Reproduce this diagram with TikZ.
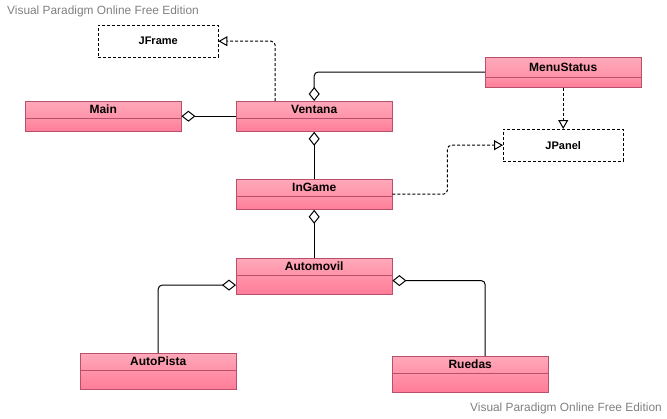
\documentclass[tikz,border=0pt]{standalone}
\usepackage{fontspec}
\setmainfont{Liberation Sans}
\usetikzlibrary{arrows.meta}
\usetikzlibrary{positioning}

\definecolor{umltop}{HTML}{FFA9BA}
\definecolor{umlmid}{HTML}{FF93A9}
\definecolor{umlbot}{HTML}{FF7C98}
\definecolor{umlborder}{HTML}{B9506B}
\definecolor{wmgray}{HTML}{808080}

\tikzset{
  classhead/.style={draw=umlborder, top color=umltop, bottom color=umlmid,
    minimum width=156pt, minimum height=17pt, inner sep=0pt, anchor=north west,
    font=\bfseries\fontsize{12}{14}\selectfont},
  classbody/.style={draw=umlborder, top color=umlmid, bottom color=umlbot,
    minimum width=156pt, inner sep=0pt},
  iface/.style={draw, dash pattern=on 3pt off 2pt, minimum width=120pt,
    minimum height=32pt, inner sep=0pt, anchor=north west,
    font=\bfseries\fontsize{11}{13}\selectfont},
  aggr/.style={draw, line width=1pt, rounded corners=4pt,
    arrows={Diamond[open,fill=white,length=14pt,width=11pt]-}},
  realize/.style={draw, line width=1pt, dash pattern=on 3pt off 2pt,
    rounded corners=4pt, arrows={-Triangle[open,fill=white,length=9pt,width=10pt]}},
  watermark/.style={text=wmgray, font=\fontsize{11.9}{14}\selectfont, inner sep=0pt}
}

\begin{document}
\begin{tikzpicture}[x=1pt,y=-1pt]
  \useasboundingbox (0,0) rectangle (667,418);

  % classes
  \node [classhead] (main) at (25,101) {Main};
  \node [classbody, minimum height=13pt, below=0pt of main] (main-b) {};
  \node [classhead] (ventana) at (236,101) {Ventana};
  \node [classbody, minimum height=13pt, below=0pt of ventana] (ventana-b) {};
  \node [classhead, minimum height=19.5pt] (menustatus) at (485,57) {MenuStatus};
  \node [classbody, minimum height=10.5pt, below=0pt of menustatus] (menustatus-b) {};
  \node [classhead] (ingame) at (236,179) {InGame};
  \node [classbody, minimum height=13pt, below=0pt of ingame] (ingame-b) {};
  \node [classhead] (automovil) at (236,258) {Automovil};
  \node [classbody, minimum height=19pt, below=0pt of automovil] (automovil-b) {};
  \node [classhead] (autopista) at (80,353) {AutoPista};
  \node [classbody, minimum height=19pt, below=0pt of autopista] (autopista-b) {};
  \node [classhead] (ruedas) at (392,356) {Ruedas};
  \node [classbody, minimum height=19pt, below=0pt of ruedas] (ruedas-b) {};

  % interfaces
  \node [iface] (jframe) at (98,25) {JFrame};
  \node [iface] (jpanel) at (503,129) {JPanel};

  % aggregations
  \draw [aggr] ([yshift=-6.5pt]main.east) -- ([yshift=-6.5pt]ventana.west);
  \draw [aggr] (ventana.north) |- (menustatus.west |- 0,72);
  \draw [aggr] (ventana-b.south) -- (ingame.north);
  \draw [aggr] (ingame-b.south) -- (automovil.north);
  \draw [aggr] (automovil-b.west) -| (autopista.north);
  \draw [aggr] ([yshift=4.5pt]automovil-b.east) -| ([xshift=15pt]ruedas.north);

  % realizations
  \draw [realize] ([xshift=-39pt]ventana.north) |- (jframe.east);
  \draw [realize] (menustatus-b.south) -- (jpanel.north);
  \draw [realize] ([yshift=-6.5pt]ingame.east) -- ++(55,0) |- (jpanel.west);

  % watermarks
  \node [watermark, anchor=west] (wm-top) at (7,11) {Visual Paradigm Online Free Edition};
  \node [watermark, anchor=east] (wm-bot) at (662,408) {Visual Paradigm Online Free Edition};
\end{tikzpicture}
\end{document}
